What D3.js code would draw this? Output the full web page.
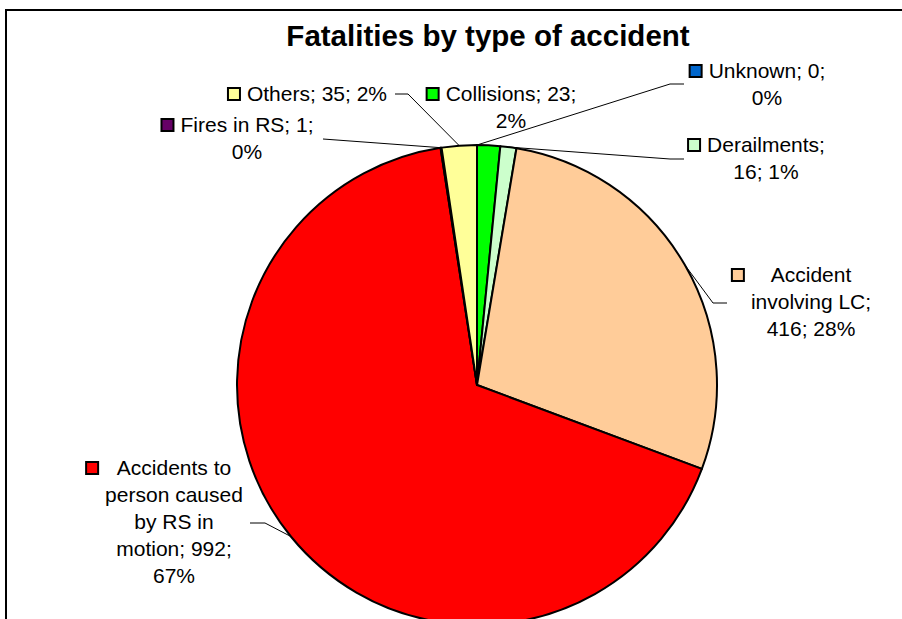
<!DOCTYPE html>
<meta charset="utf-8">
<style>
	body { margin: 0; background: white; }
	text { font-family: "Liberation Sans", Arial, sans-serif; fill: black; }
</style>
<body>
	<div id="chart"></div>
	<script src="https://d3js.org/d3.v7.min.js"></script>
	<script>
		// data
		const categories = ["Unknown", "Collisions", "Derailments", "Accident involving LC",
			"Accidents to person caused by RS in motion", "Fires in RS", "Others"];
		const values = [0, 23, 16, 416, 992, 1, 35];
		const colors = ["#0066CC", "#00FF00", "#CCFFCC", "#FFCC99", "#FF0000", "#660066", "#FFFF99"];
		const labelLines = [
			["Unknown; 0;", "0%"],
			["Collisions; 23;", "2%"],
			["Derailments;", "16; 1%"],
			["Accident", "involving LC;", "416; 28%"],
			["Accidents to", "person caused", "by RS in", "motion; 992;", "67%"],
			["Fires in RS; 1;", "0%"],
			["Others; 35; 2%"]
		];

		// label placement (center x, first baseline, leader elbow points)
		const layout = [
			{ x: 767, y: 78, lead: [[684, 84], [670, 84]] },
			{ x: 511, y: 101, lead: null },
			{ x: 766, y: 152, lead: [[684, 159], [670, 159]] },
			{ x: 811, y: 282, lead: [[727, 303], [713, 303]] },
			{ x: 174, y: 475, lead: [[250, 523], [265, 523]] },
			{ x: 247, y: 132, lead: [[323, 139]] },
			{ x: 317, y: 101, lead: [[395, 94], [408, 94]] }
		];

		const width = 902, height = 619;
		const cx = 477, cy = 385, radius = 240;

		const svg = d3.select("#chart").append("svg")
			.attr("width", width)
			.attr("height", height);

		svg.append("rect")
			.attr("x", 6).attr("y", 10)
			.attr("width", 940).attr("height", 640)
			.attr("fill", "white")
			.attr("stroke", "black")
			.attr("stroke-width", 2);

		svg.append("text")
			.attr("x", 488).attr("y", 46)
			.attr("text-anchor", "middle")
			.style("font-size", "29.5px")
			.style("font-weight", "bold")
			.text("Fatalities by type of accident");

		const pie = d3.pie().sort(null).value(d => d)(values);
		const arc = d3.arc().innerRadius(0).outerRadius(radius);

		const g = svg.append("g").attr("transform", `translate(${cx},${cy})`);
		g.selectAll("path")
			.data(pie)
			.enter()
			.append("path")
			.attr("d", arc)
			.attr("fill", (d, i) => colors[i])
			.attr("stroke", "black")
			.attr("stroke-width", 2)
			.attr("stroke-linejoin", "round");

		// leader lines
		pie.forEach((d, i) => {
			const L = layout[i];
			if (!L.lead) return;
			const a = (d.startAngle + d.endAngle) / 2;
			const end = [cx + radius * Math.sin(a), cy - radius * Math.cos(a)];
			svg.append("path")
				.attr("d", d3.line()(L.lead.concat([end])))
				.attr("fill", "none")
				.attr("stroke", "black")
				.attr("stroke-width", 1);
		});

		// labels
		const lineH = 27;
		labelLines.forEach((lines, i) => {
			const L = layout[i];
			const t = svg.append("text")
				.attr("text-anchor", "middle")
				.style("font-size", "21px");
			lines.forEach((s, j) => {
				t.append("tspan").attr("x", L.x).attr("y", L.y + j * lineH).text(s);
			});
			let maxW = 0;
			t.selectAll("tspan").each(function () {
				maxW = Math.max(maxW, this.getComputedTextLength());
			});
			svg.append("rect")
				.attr("x", L.x - maxW / 2 - 19)
				.attr("y", L.y - 13)
				.attr("width", 12).attr("height", 12)
				.attr("fill", colors[i])
				.attr("stroke", "black")
				.attr("stroke-width", 2);
		});
	</script>
</body>
</html>
